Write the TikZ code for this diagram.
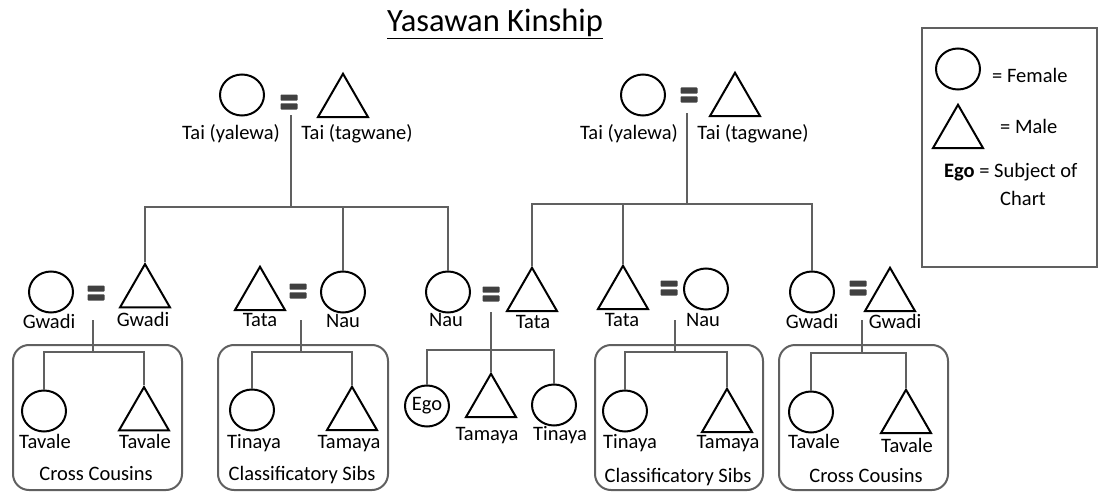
\documentclass[tikz,border=0pt]{standalone}
\usepackage{fontspec}
\setmainfont{Carlito}
\usetikzlibrary{shapes.geometric}
\definecolor{connc}{HTML}{606060}
\definecolor{eqc}{HTML}{404040}
\begin{document}
\begin{tikzpicture}[x=1pt,y=-1pt,
  fem/.style={ellipse, draw=black, line width=2pt, minimum width=44pt, minimum height=41pt, inner sep=0pt},
  mal/.style={regular polygon, regular polygon sides=3, draw=black, line width=2pt, minimum size=57.7pt, inner sep=0pt},
  eqsign/.style={rectangle, minimum width=17pt, minimum height=15pt, inner sep=0pt,
    path picture={
      \fill[eqc, rounded corners=0.8pt] (path picture bounding box.north west) rectangle ([yshift=-6.2pt]path picture bounding box.north east);
      \fill[eqc, rounded corners=0.8pt] ([yshift=6.2pt]path picture bounding box.south west) rectangle (path picture bounding box.south east);}},
  lbl/.style={font=\fontsize{20.5}{23}\selectfont, inner sep=0pt, text height=14.5pt, text depth=3.5pt},
  conn/.style={draw=connc, line width=2pt},
  grpbox/.style={draw=connc, line width=2pt, rounded corners=16pt},
  legbox/.style={draw=connc, line width=1.2pt}
]
\useasboundingbox (0,0) rectangle (1098,495);

% title
\node[font=\fontsize{32.5}{36}\selectfont, inner sep=0pt, anchor=base] (title) at (495,32) {\underline{Yasawan Kinship}};

% ---------- top generation ----------
\node[fem] (tlf) at (242,95) {};
\node[eqsign] (tleq) at (289,102) {};
\node[mal] (tlm) at (343,102.6) {};
\node[lbl] (tlfl) at (231,134) {Tai (yalewa)};
\node[lbl] (tlml) at (357,134) {Tai (tagwane)};

\node[fem] (trf) at (643,95) {};
\node[eqsign] (treq) at (689,95) {};
\node[mal] (trm) at (735,101.6) {};
\node[lbl] (trfl) at (629,134) {Tai (yalewa)};
\node[lbl] (trml) at (753,134) {Tai (tagwane)};

% ---------- middle generation ----------
% family 1
\node[fem] (f1) at (51,292) {};
\node[eqsign] (eq1) at (96,293) {};
\node[mal] (m1) at (145,293) {};
\node[lbl] (f1l) at (49,323) {Gwadi};
\node[lbl] (m1l) at (143,321) {Gwadi};
% family 2
\node[mal] (m2) at (260,295.6) {};
\node[eqsign] (eq2) at (298,291) {};
\node[fem] (f2) at (343,292) {};
\node[lbl] (m2l) at (260,321) {Tata};
\node[lbl] (f2l) at (343,322) {Nau};
% family 3 (ego's parents)
\node[fem] (f3) at (448,292) {};
\node[eqsign] (eq3) at (491,294) {};
\node[mal] (m3) at (532,296.6) {};
\node[lbl] (f3l) at (446,321) {Nau};
\node[lbl] (m3l) at (533,323) {Tata};
% family 4
\node[mal] (m4) at (623,294.6) {};
\node[eqsign] (eq4) at (669,288) {};
\node[fem] (f4) at (706,289) {};
\node[lbl] (m4l) at (622,321) {Tata};
\node[lbl] (f4l) at (703,321) {Nau};
% family 5
\node[fem] (f5) at (812,292) {};
\node[eqsign] (eq5) at (858,288) {};
\node[mal] (m5) at (890,296.6) {};
\node[lbl] (f5l) at (812,323) {Gwadi};
\node[lbl] (m5l) at (895,323) {Gwadi};

% ---------- children ----------
\draw[grpbox] (13,345) rectangle (182,490);
\node[fem] (c1f) at (44,411) {};
\node[mal] (c1m) at (144,416) {};
\node[lbl] (c1fl) at (45,443) {Tavale};
\node[lbl] (c1ml) at (145,443) {Tavale};
\node[lbl] (g1) at (96,475) {Cross Cousins};

\draw[grpbox] (218,345) rectangle (388,490);
\node[fem] (c2f) at (252,410) {};
\node[mal] (c2m) at (352,415.6) {};
\node[lbl] (c2fl) at (254,443) {Tinaya};
\node[lbl] (c2ml) at (349,443) {Tamaya};
\node[lbl] (g2) at (302,475) {Classificatory Sibs};

\node[fem, font=\fontsize{20.5}{23}\selectfont] (ego) at (427,406) {Ego};
\node[mal] (c3m) at (491,402.6) {};
\node[fem] (c3f) at (554,405) {};
\node[lbl] (c3ml) at (487,435) {Tamaya};
\node[lbl] (c3fl) at (560,435) {Tinaya};

\draw[grpbox] (595,345) rectangle (763,490);
\node[fem] (c4f) at (625,411) {};
\node[mal] (c4m) at (727,417.6) {};
\node[lbl] (c4fl) at (630,443) {Tinaya};
\node[lbl] (c4ml) at (728,443) {Tamaya};
\node[lbl] (g4) at (678,477) {Classificatory Sibs};

\draw[grpbox] (779,345) rectangle (948,490);
\node[fem] (c5f) at (811,412) {};
\node[mal] (c5m) at (906,418.6) {};
\node[lbl] (c5fl) at (814,443) {Tavale};
\node[lbl] (c5ml) at (907,447) {Tavale};
\node[lbl] (g5) at (866,477) {Cross Cousins};

% ---------- connectors ----------
\coordinate (cL) at (291,115);
\coordinate (bL) at (291,207);
\draw[conn] (cL) -- (bL);
\draw[conn] (m1.corner 1) |- (bL);
\draw[conn] (bL) -| (f3.north);
\draw[conn] (f2.north) -- (f2.north |- bL);

\coordinate (cR) at (687,113);
\coordinate (bR) at (687,204);
\draw[conn] (cR) -- (bR);
\draw[conn] (m3.corner 1) |- (bR);
\draw[conn] (bR) -| (f5.north);
\draw[conn] (m4.corner 1) -- (m4.corner 1 |- bR);

\coordinate (k1) at (93,320);
\coordinate (kb1) at (93,352);
\draw[conn] (k1) -- (kb1);
\draw[conn] (c1f.north) |- (kb1) -| (c1m.corner 1);

\coordinate (k2) at (301,320);
\coordinate (kb2) at (301,352);
\draw[conn] (k2) -- (kb2);
\draw[conn] (c2f.north) |- (kb2) -| (c2m.corner 1);

\coordinate (k3) at (491,312);
\coordinate (kb3) at (491,350);
\draw[conn] (k3) -- (c3m.corner 1);
\draw[conn] (ego.north) |- (kb3) -| (c3f.north);

\coordinate (k4) at (675,320);
\coordinate (kb4) at (675,352);
\draw[conn] (k4) -- (kb4);
\draw[conn] (c4f.north) |- (kb4) -| (c4m.corner 1);

\coordinate (k5) at (862,320);
\coordinate (kb5) at (862,353);
\draw[conn] (k5) -- (kb5);
\draw[conn] (c5f.north) |- (kb5) -| (c5m.corner 1);

% ---------- legend ----------
\draw[legbox] (922,28) rectangle (1097,267);
\node[fem] (lf) at (958,69) {};
\node[mal] (lm) at (958,133.6) {};
\node[lbl, anchor=west] (lfl) at (992,77) {= Female};
\node[lbl, anchor=west] (lml) at (1000,128) {= Male};
\node[lbl, anchor=west] (lel) at (944,172) {\textbf{Ego} = Subject of};
\node[lbl] (lcl) at (1023,200) {Chart};
\end{tikzpicture}
\end{document}
